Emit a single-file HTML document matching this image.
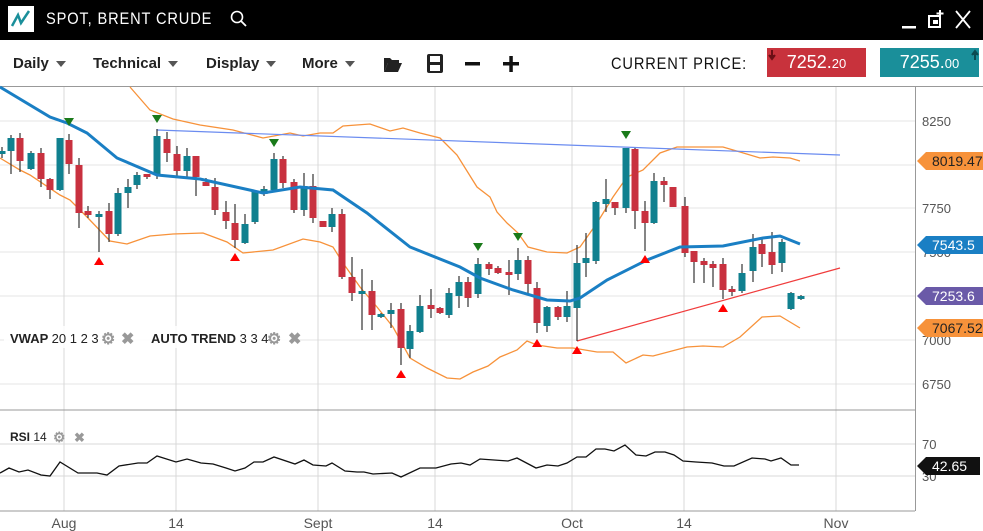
<!DOCTYPE html>
<html><head><meta charset="utf-8">
<style>
body{margin:0;width:983px;height:531px;overflow:hidden;background:#fff;font-family:"Liberation Sans",sans-serif;position:relative}
#tb{position:absolute;left:0;top:0;width:983px;height:40px;background:#000}
#tb .t{position:absolute;left:46px;top:9px;color:#fff;font-size:17px;letter-spacing:1px;transform:scaleX(0.86);transform-origin:0 0;white-space:nowrap}
.m{position:absolute;top:55px;font-size:15px;font-weight:bold;color:#222}
.m:after{content:"";display:inline-block;margin-left:7px;border-left:5px solid transparent;border-right:5px solid transparent;border-top:6px solid #555;vertical-align:middle}
.pb{position:absolute;top:48px;height:29px;width:99px;color:#fff;font-size:18px;text-align:center;line-height:29px}
</style></head><body>
<div id="tb">
<svg style="position:absolute;left:8px;top:6px" width="26" height="26"><rect width="26" height="26" fill="#fff"/><polyline points="4,20 10,9 13,17 21,5" fill="none" stroke="#1a8f9a" stroke-width="2.5"/></svg>
<div class="t">SPOT, BRENT CRUDE</div>
<svg style="position:absolute;left:229px;top:9px" width="20" height="20"><circle cx="8" cy="8" r="5.5" fill="none" stroke="#fff" stroke-width="1.6"/><line x1="12" y1="12" x2="17" y2="17" stroke="#fff" stroke-width="1.8"/></svg>
<svg style="position:absolute;left:900px;top:8px" width="80" height="24"><rect x="2" y="18" width="14" height="2.5" fill="#fff"/><rect x="29" y="8" width="11" height="11" fill="none" stroke="#fff" stroke-width="2"/><rect x="33" y="12" width="5" height="4" fill="#fff"/><path d="M40 2v7M36.5 5.5h7" stroke="#fff" stroke-width="2"/><path d="M56 3l14 17M70 3L56 20" stroke="#fff" stroke-width="1.8"/></svg>
</div>
<div class="m" style="left:13px">Daily</div>
<div class="m" style="left:93px">Technical</div>
<div class="m" style="left:206px">Display</div>
<div class="m" style="left:302px">More</div>
<svg style="position:absolute;left:382px;top:52px" width="150" height="24">
<path d="M2 6h6l2 2h7v3H6l-4 9z" fill="#222"/><path d="M6 11h14l-4 9H2z" fill="#222"/>
<rect x="45" y="2" width="16" height="19" rx="2" fill="#222"/><rect x="48" y="4" width="10" height="6" fill="#fff"/><rect x="48" y="13" width="10" height="6" fill="#fff"/>
<rect x="83" y="10" width="15" height="3.5" fill="#111"/>
<rect x="121" y="10" width="16" height="3.5" fill="#111"/><rect x="127.3" y="4" width="3.5" height="16" fill="#111"/>
</svg>
<div style="position:absolute;left:611px;top:54px;font-size:17px;letter-spacing:1px;color:#111;transform:scaleX(0.86);transform-origin:0 0;white-space:nowrap">CURRENT PRICE:</div>
<div class="pb" style="left:767px;background:#c8323c">7252.<span style="font-size:13px">20</span></div>
<div class="pb" style="left:880px;background:#1a8f9a">7255.<span style="font-size:13px">00</span></div>
<svg style="position:absolute;left:767px;top:48px" width="215" height="30"><path d="M5 2v8M2 7l3 4 3-4" stroke="#6b0f16" stroke-width="2" fill="#6b0f16"/><path d="M208 12V4M205 7l3-4 3 4" stroke="#0c4c52" stroke-width="2" fill="#0c4c52"/></svg>

<svg id="c" style="position:absolute;left:0;top:0" width="983" height="531">
<g stroke="#e6e6e6" stroke-width="1">
<line x1="0" y1="121" x2="915" y2="121"/><line x1="0" y1="165" x2="915" y2="165"/><line x1="0" y1="208" x2="915" y2="208"/><line x1="0" y1="252" x2="915" y2="252"/><line x1="0" y1="296" x2="915" y2="296"/><line x1="0" y1="340" x2="915" y2="340"/><line x1="0" y1="384" x2="915" y2="384"/>
</g>
<g stroke="#d8d8d8" stroke-width="1">
<line x1="64" y1="87" x2="64" y2="511"/><line x1="176" y1="87" x2="176" y2="511"/><line x1="318" y1="87" x2="318" y2="511"/><line x1="435" y1="87" x2="435" y2="511"/><line x1="572" y1="87" x2="572" y2="511"/><line x1="684" y1="87" x2="684" y2="511"/><line x1="836" y1="87" x2="836" y2="511"/>
<line x1="0" y1="444" x2="915" y2="444"/><line x1="0" y1="476" x2="915" y2="476"/>
</g>
<line x1="0" y1="86.5" x2="983" y2="86.5" stroke="#999"/>
<line x1="0" y1="410" x2="915" y2="410" stroke="#999"/>
<line x1="0" y1="511" x2="915" y2="511" stroke="#999"/>
<line x1="915.5" y1="87" x2="915.5" y2="511" stroke="#999"/>
<g fill="#555" font-size="13">
<text x="922" y="126">8250</text><text x="922" y="213">7750</text><text x="922" y="257">7500</text><text x="922" y="301">7250</text><text x="922" y="345">7000</text><text x="922" y="389">6750</text>
<text x="922" y="449">70</text><text x="922" y="481">30</text>
</g>
<g fill="#555" font-size="14" text-anchor="middle">
<text x="64" y="528">Aug</text><text x="176" y="528">14</text><text x="318" y="528">Sept</text><text x="435" y="528">14</text><text x="572" y="528">Oct</text><text x="684" y="528">14</text><text x="836" y="528">Nov</text>
</g>
<polyline fill="none" stroke="#f7923a" stroke-width="1.3" points="130,87 150,110 173,119 200,125 233,130 263,138 290,133 303,136 320,133 333,133 343,126 370,124 390,131 403,128 420,133 440,138 457,155 477,187 490,197 497,212 507,223 518,233 528,247 547,252 567,253 580,247 597,223 613,197 627,177 643,170 660,153 677,147 723,147 740,152 760,158 773,157 790,158 800,161"/>
<polyline fill="none" stroke="#f7923a" stroke-width="1.3" points="0,158 20,170 30,175 60,195 70,200 87,217 110,241 127,244 150,236 173,234 203,233 227,242 243,253 273,250 303,239 320,242 333,247 343,263 360,287 377,307 393,327 410,358 427,368 447,378 460,379 473,372 488,366 500,357 517,350 527,341 537,345 557,348 573,348 597,352 613,352 626,363 643,355 653,356 687,347 703,346 723,347 740,337 762,317 780,316 800,328"/>
<line x1="157" y1="130" x2="840" y2="155" stroke="#6b8cf0" stroke-width="1.2"/>
<line x1="577" y1="341" x2="840" y2="268" stroke="#f03c3c" stroke-width="1.2"/>
<g id="cd"></g>
<polyline fill="none" stroke="#1a7fc4" stroke-width="3" points="0,87 50,117 67,123 87,133 117,158 157,175 200,179 263,193 300,187 333,190 367,213 410,247 460,267 480,278 513,290 547,300 570,301 580,298 607,280 647,260 680,247 723,246 763,238 780,236 800,244"/>
<g id="mk"></g>
<polyline fill="none" stroke="#111" stroke-width="1.3" points="0,473 9,468 19,472 28,470 41,475 50,476 60,462 78,473 97,473 107,475 119,466 138,463 147,463 157,456 176,462 187,459 201,463 213,464 226,468 235,471 245,468 254,462 263,462 274,457 295,464 304,460 313,465 326,466 332,463 345,471 357,472 364,472 373,474 392,473 401,477 420,468 436,468 451,464 461,463 470,465 480,459 508,461 517,458 536,468 547,465 558,466 567,463 577,457 586,457 596,449 605,449 614,451 625,445 636,455 646,456 655,452 665,452 674,455 683,461 696,462 712,463 724,466 734,466 752,458 765,459 771,461 781,458 791,465 799,465"/>
<g font-size="14" fill="#fff">
<path d="M917 161l9-9h57v18h-57z" fill="#f7923a"/><text x="932" y="166" fill="#222">8019.47</text>
<path d="M917 245l9-9h57v18h-57z" fill="#1a7fc4"/><text x="932" y="250">7543.5</text>
<path d="M917 296l9-9h57v18h-57z" fill="#6a5aa8"/><text x="932" y="301">7253.6</text>
<path d="M917 328l9-9h57v18h-57z" fill="#f7923a"/><text x="932" y="333" fill="#222">7067.52</text>
<path d="M917 466l9-9h54v18h-54z" fill="#111"/><text x="932" y="471">42.65</text>
</g>
<g font-size="13" font-weight="bold" fill="#222">
<rect x="4" y="326" width="288" height="22" fill="#fff" opacity="0.85"/>
<text x="10" y="343">VWAP <tspan font-weight="normal">20 1 2 3</tspan></text>
<text x="151" y="343">AUTO TREND <tspan font-weight="normal">3 3 4</tspan></text>
<text x="10" y="441" font-size="12">RSI <tspan font-weight="normal">14</tspan></text>
</g>
<g fill="#999" font-size="16" font-weight="bold">
<text x="101" y="344">⚙</text><text x="121" y="344">✖</text>
<text x="267" y="344">⚙</text><text x="288" y="344">✖</text>
<text x="53" y="442" font-size="14">⚙</text><text x="74" y="442" font-size="13">✖</text>
</g>
</svg>
<script>
var C=[[2,151,154,147,158,'t'],[11,138,151,135,174,'t'],[20,138,161,133,172,'r'],[31,153,169,151,170,'t'],[41,153,179,148,187,'r'],[50,179,190,178,199,'r'],[60,138,190,138,191,'t'],[69,140,164,134,174,'r'],[79,165,213,158,228,'r'],[88,211,215,206,218,'r'],[99,214,217,211,252,'t'],[109,211,234,203,242,'r'],[118,193,234,188,236,'t'],[128,187,193,179,208,'t'],[137,175,185,172,189,'t'],[147,174,177,174,179,'r'],[157,136,175,129,179,'t'],[167,139,153,132,162,'r'],[177,154,171,146,177,'r'],[187,156,171,148,177,'t'],[196,156,177,156,196,'r'],[206,182,186,178,186,'r'],[215,187,210,178,215,'r'],[226,212,221,201,229,'r'],[235,223,240,204,248,'r'],[245,224,243,214,244,'t'],[255,191,222,191,224,'t'],[264,189,194,186,196,'t'],[274,159,190,153,191,'t'],[283,159,183,156,188,'r'],[294,182,210,179,213,'r'],[304,186,210,173,216,'t'],[313,186,218,174,223,'r'],[323,221,227,221,227,'r'],[332,214,227,208,232,'t'],[342,214,277,209,279,'r'],[352,277,293,257,301,'r'],[362,291,294,269,330,'t'],[372,291,315,280,330,'r'],[381,314,317,313,318,'t'],[391,310,314,303,328,'t'],[401,309,348,303,365,'r'],[410,331,349,325,358,'t'],[420,306,332,295,333,'t'],[431,305,309,289,318,'r'],[440,308,313,307,314,'r'],[449,293,315,288,318,'t'],[459,282,296,276,308,'t'],[468,282,298,277,307,'r'],[478,264,294,258,298,'t'],[489,264,269,262,275,'r'],[498,268,273,266,274,'r'],[509,272,275,260,295,'r'],[518,260,274,248,280,'t'],[528,260,284,256,293,'r'],[537,288,323,282,333,'r'],[547,307,326,306,332,'t'],[558,307,317,306,320,'r'],[567,306,317,291,322,'t'],[577,263,308,245,341,'t'],[586,258,263,233,277,'t'],[596,202,261,201,264,'t'],[606,199,204,179,212,'t'],[615,202,208,202,215,'r'],[626,148,208,148,213,'t'],[635,149,211,148,229,'r'],[645,211,223,201,251,'r'],[654,181,223,173,224,'t'],[664,181,185,177,202,'r'],[673,187,207,187,207,'r'],[685,206,253,197,257,'r'],[694,251,262,251,283,'r'],[704,261,265,258,283,'r'],[713,264,268,261,287,'r'],[723,264,290,258,299,'r'],[732,289,292,286,296,'r'],[742,273,291,264,293,'t'],[753,247,271,234,282,'t'],[762,244,254,239,267,'r'],[772,252,265,232,274,'r'],[782,242,263,239,272,'t'],[791,293,309,292,310,'t'],[801,296,299,295,300,'t']];
var s='';C.forEach(function(c){var col=c[5]=='t'?'#10808f':'#c8313f';var a=Math.min(c[1],c[2]),b=Math.max(c[1],c[2]);s+='<line x1="'+c[0]+'" y1="'+c[3]+'" x2="'+c[0]+'" y2="'+c[4]+'" stroke="#333" stroke-width="1.2"/><rect x="'+(c[0]-3.5)+'" y="'+a+'" width="7" height="'+Math.max(b-a,2.5)+'" fill="'+col+'"/>';});
document.getElementById('cd').innerHTML=s;
var g=[[69,122],[157,119],[274,143],[478,247],[518,237],[626,135]],r=[[99,261],[235,257],[401,374],[537,343],[577,350],[645,259],[723,308]],m='';
g.forEach(function(p){m+='<path d="M'+(p[0]-5)+' '+(p[1]-4)+'h10l-5 8z" fill="#1a7a1a"/>';});
r.forEach(function(p){m+='<path d="M'+(p[0]-5)+' '+(p[1]+4)+'h10l-5 -8z" fill="#f00"/>';});
document.getElementById('mk').innerHTML=m;
</script>
</body></html>
